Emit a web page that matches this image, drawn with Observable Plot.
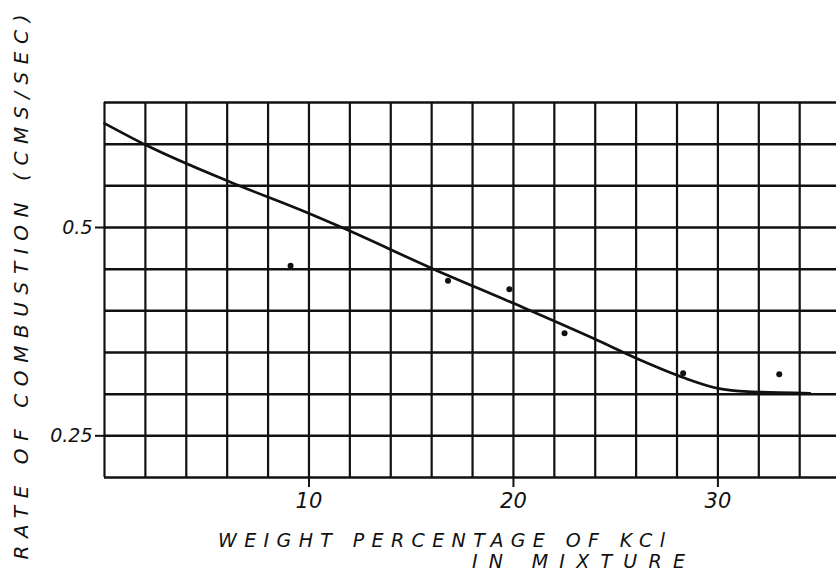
<!DOCTYPE html>
<html><head><meta charset="utf-8">
<script src="https://cdn.jsdelivr.net/npm/d3@7"></script>
<script src="https://cdn.jsdelivr.net/npm/@observablehq/plot@0.6"></script>
<style>html,body{margin:0;padding:0;background:#fff} svg{display:block}</style>
</head><body><div id="chart"></div>
<script>
// measured points (weight % KCl, rate cm/s)
const pointX = [9.1, 16.8, 19.8, 22.5, 28.3, 33.0];
const pointY = [0.454, 0.436, 0.426, 0.373, 0.325, 0.324];
// hand-drawn fitted curve, read along its path
const curveX = [0, 2.1, 6.2, 9.6, 11.7, 16.1, 20.0, 23.9, 26.2, 28.3, 30.0, 31.5, 33.0, 34.5];
const curveY = [0.625, 0.598, 0.554, 0.521, 0.499, 0.450, 0.409, 0.367, 0.341, 0.320, 0.307, 0.303, 0.302, 0.301];
// graph-paper grid
const xGrid = [0, 2, 4, 6, 8, 10, 12, 14, 16, 18, 20, 22, 24, 26, 28, 30, 32, 34];
const yGrid = [0.2, 0.25, 0.3, 0.35, 0.4, 0.45, 0.5, 0.55, 0.6, 0.65];
// ticks
const xTicks = [10, 20, 30];
const xTickLabels = ["10", "20", "30"];
const yTicks = [0.25, 0.5];
const yTickLabels = ["0.25", "0.5"];
// titles
const xLabelLines = ["WEIGHT PERCENTAGE OF KCl", "IN MIXTURE"];
const yLabel = "RATE OF COMBUSTION (CMS/SEC)";

const points = pointX.map((x, i) => ({x, y: pointY[i]}));
const curve = curveX.map((x, i) => ({x, y: curveY[i]}));

const ink = "#111";
const plot = Plot.plot({
  width: 836, height: 577,
  marginLeft: 104, marginRight: 0, marginTop: 102, marginBottom: 100,
  x: {domain: [0, 35.8]},
  y: {domain: [0.2, 0.65]},
  style: {fontFamily: "DejaVu Sans", fontStyle: "italic", background: "#fff", color: ink},
  marks: [
    Plot.ruleX(xGrid, {stroke: ink, strokeWidth: 2.2}),
    Plot.ruleY(yGrid, {stroke: ink, strokeWidth: 2.5}),
    Plot.axisX({ticks: xTicks, tickFormat: d => xTickLabels[xTicks.indexOf(d)], tickSize: 10, tickPadding: 6,
      fontSize: 21, strokeWidth: 2, stroke: ink, fill: ink, label: null}),
    Plot.axisY({ticks: yTicks, tickFormat: d => yTickLabels[yTicks.indexOf(d)], tickSize: 9, tickPadding: 3,
      fontSize: 19, strokeWidth: 2, stroke: ink, fill: ink, label: null}),
    Plot.line(curve, {x: "x", y: "y", curve: "monotone-x", stroke: ink, strokeWidth: 2.7}),
    Plot.dot(points, {x: "x", y: "y", r: 3, fill: ink, stroke: "none"})
  ]
});

const svg = d3.select(plot);
const labelStyle = t => t.attr("font-family", "DejaVu Sans").attr("font-style", "italic").attr("fill", ink)
  .attr("lengthAdjust", "spacing");
svg.append("text").call(labelStyle)
  .attr("transform", "translate(28,287) rotate(-90)")
  .attr("text-anchor", "middle").attr("font-size", 20).attr("textLength", 545)
  .text(yLabel);
svg.append("text").call(labelStyle)
  .attr("x", 218).attr("y", 547).attr("text-anchor", "start").attr("font-size", 19).attr("textLength", 447)
  .text(xLabelLines[0]);
svg.append("text").call(labelStyle)
  .attr("x", 472).attr("y", 568).attr("text-anchor", "start").attr("font-size", 19).attr("textLength", 213)
  .text(xLabelLines[1]);

document.getElementById("chart").append(plot);
</script>
</body></html>
